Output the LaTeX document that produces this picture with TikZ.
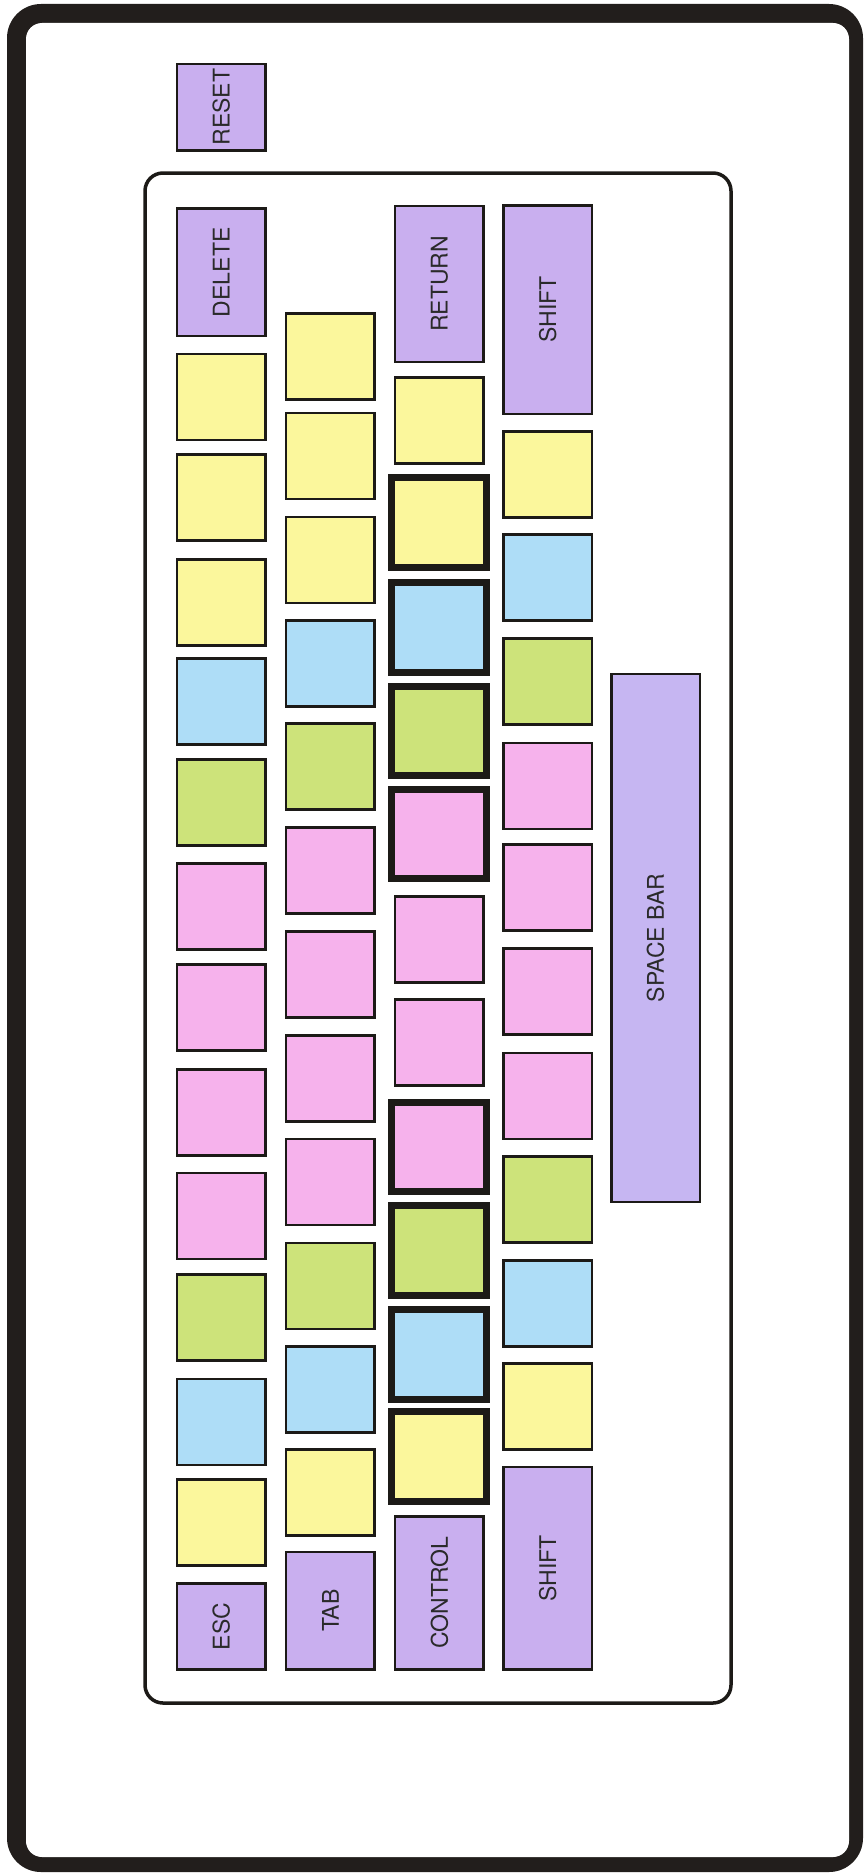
\documentclass[tikz,border=0pt]{standalone}
\usepackage{fontspec}
\setmainfont{TeX Gyre Heros}
\definecolor{framecol}{HTML}{221E1C}
\definecolor{keyline}{HTML}{1C1A17}
\definecolor{kyellow}{HTML}{FBF79C}
\definecolor{kblue}{HTML}{AEDDF7}
\definecolor{kgreen}{HTML}{CDE37A}
\definecolor{kpink}{HTML}{F6B2EC}
\definecolor{kpurple}{HTML}{C9AFEF}
\definecolor{kspace}{HTML}{C6B6F2}
\definecolor{ktext}{HTML}{2A2A2A}
\tikzset{
  keybox/.style={draw=keyline, line width=2.5pt, inner sep=0pt, minimum width=88.5pt, minimum height=86pt},
  thickkey/.style={draw=keyline, line width=7pt, inner sep=0pt, minimum width=94.7pt, minimum height=89.4pt},
  namedkey/.style={draw=keyline, line width=2.5pt, inner sep=0pt, rotate=90, minimum height=88.5pt,
     fill=kpurple, text=ktext, font=\fontsize{23}{23}\selectfont},
}
\begin{document}
\begin{tikzpicture}[x=1pt,y=-1pt]
\useasboundingbox (0,0) rectangle (867,1873);
\fill[white] (0,0) rectangle (867,1873);
% outer frame
\fill[framecol, rounded corners=34pt] (7,4) rectangle (863,1872);
\fill[white, rounded corners=16pt] (26,23) rectangle (849,1857);
% keyboard outline
\draw[keyline, line width=3.5pt, rounded corners=18pt] (145,173) rectangle (731,1703);
% reset
\node[namedkey, minimum width=86.5pt] (reset) at (221.2,107.2) {RESET};
% column 1
\node[namedkey, minimum width=127.5pt] (delete) at (221.2,272.3) {DELETE};
\foreach \y/\c [count=\i] in {396.95/kyellow,497.55/kyellow,602.55/kyellow,701.55/kblue,802.55/kgreen,906.55/kpink,1007.55/kpink,1112.55/kpink,1215.95/kpink,1317.55/kgreen,1421.95/kblue,1522.55/kyellow}
  \node[keybox, fill=\c] (ca\i) at (221.2,\y) {};
\node[namedkey, minimum width=85.9pt] (esc) at (221.2,1626.5) {ESC};
% column 2
\foreach \y/\c [count=\i] in {356.55/kyellow,455.95/kyellow,559.95/kyellow,663.25/kblue,766.55/kgreen,870.25/kpink,974.25/kpink,1078.25/kpink,1181.95/kpink,1285.95/kgreen,1389.25/kblue,1492.55/kyellow}
  \node[keybox, fill=\c] (cb\i) at (330.4,\y) {};
\node[namedkey, minimum width=117.5pt] (tab) at (330.4,1610.7) {TAB};
% column 3
\node[namedkey, minimum width=156.1pt] (return) at (439.4,284) {RETURN};
\node[keybox, fill=kyellow] (cc1) at (439.4,420.25) {};
\foreach \y/\c [count=\i] in {522.5/kyellow,627.5/kblue,730.85/kgreen,834.2/kpink}
  \node[thickkey, fill=\c] (cct\i) at (438.8,\y) {};
\node[keybox, fill=kpink] (cc2) at (439.4,939.25) {};
\node[keybox, fill=kpink] (cc3) at (439.4,1042.55) {};
\foreach \y/\c [count=\i] in {1146.8/kpink,1250.35/kgreen,1354.5/kblue,1456.3/kyellow}
  \node[thickkey, fill=\c] (ccu\i) at (438.8,\y) {};
\node[namedkey, minimum width=153.2pt] (control) at (439.4,1592.85) {CONTROL};
% column 4
\node[namedkey, minimum width=208.5pt] (shiftr) at (547.7,309.5) {SHIFT};
\foreach \y/\c [count=\i] in {474.25/kyellow,577.55/kblue,681.55/kgreen,785.95/kpink,887.55/kpink,991.55/kpink,1095.95/kpink,1199.25/kgreen,1303.55/kblue,1406.55/kyellow}
  \node[keybox, fill=\c] (cd\i) at (547.7,\y) {};
\node[namedkey, minimum width=202.5pt] (shiftl) at (547.7,1568.2) {SHIFT};
% space bar
\node[namedkey, fill=kspace, minimum width=528.1pt] (space) at (655.5,938) {SPACE BAR};
\end{tikzpicture}
\end{document}
